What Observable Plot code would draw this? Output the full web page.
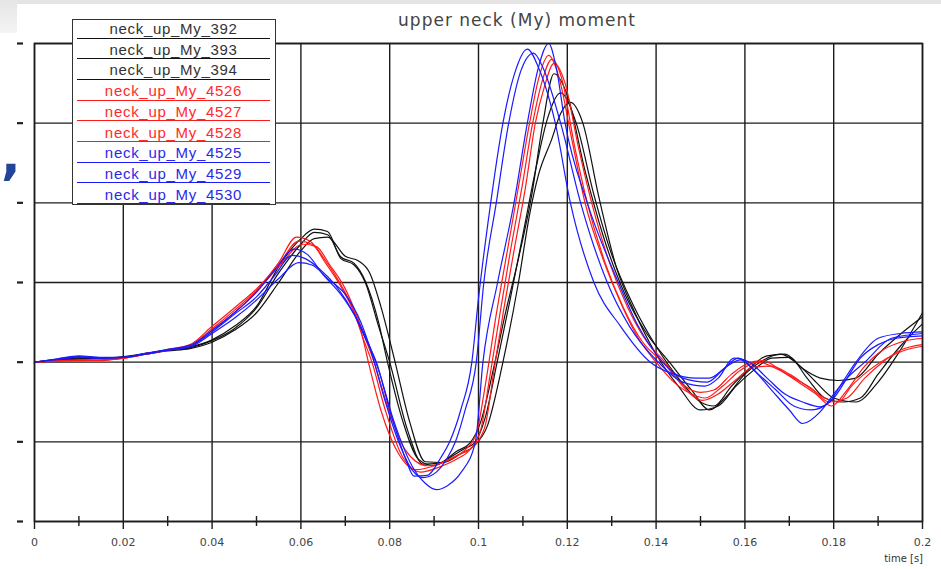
<!DOCTYPE html>
<html>
<head>
<meta charset="utf-8">
<script src="https://cdn.jsdelivr.net/npm/d3@7"></script>
<script src="https://cdn.jsdelivr.net/npm/@observablehq/plot@0.6"></script>
<style>
  html, body { margin: 0; padding: 0; background: #fff; overflow: hidden; }
  #wrap { position: relative; width: 941px; height: 569px; overflow: hidden; background: #fff; }
  #chart { position: absolute; left: 0; top: 0; }
  .band { position: absolute; left: 0; top: 0; width: 941px; height: 4px; background: #e4e4e4; }
  .corner { position: absolute; left: 0; top: 0; width: 17px; height: 33px; background: linear-gradient(#e6e6e6, #f4f4f4); }
  .comma { position: absolute; left: 1px; top: 130px; font: bold 52px/52px "DejaVu Sans", sans-serif; color: #22449a; }
  .title { position: absolute; left: 517px; top: 10px; transform: translateX(-50%); white-space: nowrap;
           font: 17px "DejaVu Sans", sans-serif; letter-spacing: 1px; color: #444; }
  .xlabel { position: absolute; right: 18px; top: 553px; font: 10px "DejaVu Sans", sans-serif; color: #333; }
  #legend { position: absolute; left: 72px; top: 19px; width: 202px; height: 184px; background: #fff;
            border: 1px solid #333; }
  .lrow { position: absolute; left: 4px; width: 193px; text-align: center; font: 15px "Liberation Sans", Arial, sans-serif;
          letter-spacing: 0.7px; line-height: 17px; }
  .lline { position: absolute; left: 4px; width: 193px; height: 0; border-top: 1.5px solid; }
</style>
</head>
<body>
<div id="wrap">
  <div class="band"></div>
  <div class="corner"></div>
  <div class="comma">,</div>
  <div id="chart"></div>
  <div class="title">upper neck (My) moment</div>
  <div class="xlabel">time [s]</div>
  <div id="legend"></div>
</div>
<script>
// ---- Data ----
const seriesNames = ["neck_up_My_392", "neck_up_My_393", "neck_up_My_394",
                     "neck_up_My_4526", "neck_up_My_4527", "neck_up_My_4528",
                     "neck_up_My_4525", "neck_up_My_4529", "neck_up_My_4530"];
const lineColors = ["#111111", "#111111", "#111111",
                    "#ff1a1a", "#ff1a1a", "#ff1a1a",
                    "#1a1aff", "#1a1aff", "#1a1aff"];
const textColors = ["#333333", "#333333", "#333333",
                    "#ff2a2a", "#ff2a2a", "#ff2a2a",
                    "#2a2ae6", "#2a2ae6", "#2a2ae6"];
const xTicks = [0, 0.02, 0.04, 0.06, 0.08, 0.1, 0.12, 0.14, 0.16, 0.18, 0.2];
const xTickLabels = ["0", "0.02", "0.04", "0.06", "0.08", "0.1", "0.12", "0.14", "0.16", "0.18", "0.2"];
const xMinorTicks = [0.01, 0.03, 0.05, 0.07, 0.09, 0.11, 0.13, 0.15, 0.17, 0.19];
const yTicks = [-2, -1, 0, 1, 2, 3, 4];

// [time s, moment (grid units)]
const s392 = [[0,0],[.005,.03],[.01,.05],[.015,.05],[.02,.07],[.025,.11],[.03,.15],[.035,.19],[.04,.28],[.045,.45],[.05,.7],[.055,1.2],[.06,1.55],[.063,1.67],[.066,1.64],[.069,1.3],[.072,1.22],[.0745,1.0],[.0775,.45],[.08,0],[.084,-.85],[.0875,-1.28],[.091,-1.27],[.095,-1.12],[.098,-1.02],[.1005,-.75],[.1035,-.05],[.106,.6],[.109,1.3],[.112,2.1],[.1145,3.0],[.117,3.62],[.12,3.35],[.124,2.4],[.128,1.6],[.133,.85],[.138,.35],[.143,0],[.148,-.35],[.152,-.6],[.156,-.42],[.16,-.15],[.164,.02],[.168,.1],[.172,-.03],[.176,-.25],[.18,-.45],[.185,-.5],[.19,-.25],[.195,.15],[.2,.62]];
const s393 = [[0,0],[.005,.02],[.01,.04],[.015,.05],[.02,.06],[.025,.1],[.03,.15],[.035,.18],[.04,.27],[.045,.42],[.05,.68],[.055,1.12],[.06,1.48],[.063,1.63],[.066,1.6],[.069,1.32],[.072,1.24],[.0745,1.02],[.0775,.5],[.0795,0],[.083,-.75],[.0865,-1.22],[.09,-1.3],[.094,-1.18],[.097,-1.08],[.099,-1.02],[.1015,-.7],[.1042,0],[.107,.75],[.11,1.6],[.113,2.45],[.1155,3.05],[.1185,3.38],[.122,3.0],[.126,2.1],[.13,1.35],[.135,.7],[.14,.2],[.145,-.2],[.15,-.5],[.153,-.55],[.157,-.3],[.161,-.08],[.165,.08],[.169,.1],[.173,-.08],[.177,-.2],[.181,-.23],[.185,-.2],[.19,.1],[.195,.35],[.2,.57]];
const s394 = [[0,0],[.005,.03],[.01,.04],[.015,.05],[.02,.06],[.025,.1],[.03,.14],[.035,.17],[.04,.25],[.045,.4],[.05,.62],[.055,1.0],[.06,1.4],[.063,1.55],[.066,1.57],[.07,1.33],[.073,1.27],[.0755,1.12],[.078,.7],[.081,.05],[.0845,-.75],[.088,-1.25],[.092,-1.26],[.096,-1.15],[.099,-1.05],[.102,-.8],[.1055,0],[.109,1.0],[.1115,1.85],[.1135,2.35],[.1165,2.8],[.1185,3.12],[.1207,3.26],[.1235,3.0],[.127,2.1],[.131,1.2],[.135,.65],[.14,.1],[.145,-.3],[.15,-.6],[.154,-.55],[.158,-.3],[.162,-.1],[.166,.05],[.17,.06],[.174,-.2],[.178,-.45],[.182,-.5],[.186,-.45],[.19,-.15],[.195,.2],[.2,.48]];
const s4526 = [[0,0],[.005,.02],[.01,.02],[.015,.02],[.02,.05],[.025,.1],[.03,.15],[.035,.21],[.04,.42],[.045,.65],[.05,.9],[.055,1.25],[.059,1.57],[.062,1.52],[.065,1.32],[.0685,1.02],[.0715,.7],[.0735,.4],[.0752,0],[.078,-.6],[.082,-1.15],[.086,-1.35],[.09,-1.3],[.094,-1.2],[.097,-1.1],[.0995,-.9],[.1015,-.3],[.104,.6],[.1065,1.4],[.109,2.2],[.1115,3.0],[.1135,3.55],[.1158,3.85],[.118,3.6],[.121,2.8],[.124,2.0],[.128,1.3],[.132,.75],[.136,.3],[.14,0],[.144,-.25],[.148,-.4],[.151,-.45],[.155,-.3],[.159,-.1],[.163,0],[.167,-.08],[.171,-.2],[.175,-.33],[.179,-.5],[.183,-.45],[.187,-.2],[.191,0],[.195,.15],[.2,.22]];
const s4527 = [[0,0],[.005,.02],[.01,.03],[.015,.03],[.02,.05],[.025,.1],[.03,.16],[.035,.22],[.04,.45],[.045,.68],[.05,.92],[.055,1.22],[.0595,1.52],[.0625,1.48],[.0655,1.25],[.069,.95],[.072,.62],[.074,.3],[.076,0],[.079,-.6],[.083,-1.2],[.087,-1.38],[.091,-1.32],[.095,-1.22],[.098,-1.1],[.1005,-.85],[.1025,-.2],[.1048,.6],[.1072,1.4],[.1098,2.2],[.1122,3.0],[.1142,3.5],[.1165,3.8],[.1188,3.55],[.1215,2.75],[.1245,2.0],[.1285,1.25],[.1325,.7],[.137,.25],[.1415,0],[.146,-.28],[.15,-.38],[.153,-.35],[.157,-.15],[.1605,-.02],[.164,.02],[.168,-.1],[.172,-.25],[.176,-.4],[.1795,-.55],[.183,-.35],[.187,-.05],[.191,.15],[.195,.25],[.2,.3]];
const s4528 = [[0,0],[.005,.01],[.01,.02],[.015,.03],[.02,.05],[.025,.1],[.03,.15],[.035,.2],[.04,.4],[.045,.62],[.05,.88],[.055,1.2],[.0605,1.48],[.0635,1.45],[.0665,1.22],[.07,.92],[.0725,.6],[.0745,.3],[.0765,0],[.0795,-.55],[.0835,-1.1],[.0885,-1.3],[.0925,-1.25],[.096,-1.15],[.099,-1.05],[.1015,-.8],[.1035,-.1],[.1058,.7],[.108,1.4],[.1106,2.2],[.1128,3.0],[.1148,3.45],[.117,3.75],[.1195,3.5],[.1225,2.7],[.1255,2.0],[.1295,1.25],[.1335,.7],[.138,.25],[.142,0],[.146,-.3],[.1505,-.48],[.154,-.4],[.158,-.22],[.162,-.06],[.166,-.05],[.17,-.15],[.174,-.3],[.178,-.45],[.181,-.5],[.184,-.3],[.188,-.1],[.192,.05],[.196,.15],[.2,.2]];
const s4525 = [[0,0],[.005,.04],[.01,.07],[.015,.05],[.02,.06],[.025,.11],[.03,.15],[.035,.2],[.04,.38],[.045,.6],[.05,.82],[.054,1.08],[.058,1.34],[.061,1.3],[.064,1.18],[.068,.95],[.072,.6],[.0745,.3],[.077,0],[.08,-.6],[.0835,-1.2],[.0855,-1.43],[.0885,-1.42],[.0915,-1.2],[.0935,-1.0],[.096,-.6],[.0985,0],[.1,.8],[.1025,1.9],[.1055,3.0],[.108,3.6],[.111,3.93],[.1135,3.7],[.1173,3.0],[.1207,2.0],[.126,1.0],[.132,.45],[.1387,0],[.144,-.15],[.149,-.2],[.152,-.2],[.156,-.05],[.159,.03],[.163,-.15],[.167,-.35],[.171,-.55],[.175,-.6],[.179,-.5],[.182,-.25],[.185,0],[.19,.3],[.195,.36],[.2,.38]];
const s4529 = [[0,0],[.005,.03],[.01,.06],[.015,.05],[.02,.06],[.025,.1],[.03,.15],[.035,.19],[.04,.36],[.045,.55],[.05,.78],[.055,1.05],[.0595,1.25],[.0625,1.22],[.066,1.05],[.07,.85],[.0735,.5],[.076,.1],[.0785,-.4],[.082,-1.0],[.085,-1.35],[.0875,-1.45],[.0905,-1.38],[.093,-1.2],[.0948,-1.0],[.097,-.6],[.0995,0],[.1012,1.0],[.104,2.0],[.1068,3.0],[.1095,3.65],[.1124,3.88],[.1145,3.7],[.1185,3.0],[.123,2.0],[.129,1.0],[.134,.45],[.1405,0],[.146,-.25],[.151,-.3],[.154,-.2],[.1575,.05],[.161,0],[.165,-.2],[.169,-.4],[.173,-.5],[.177,-.56],[.18,-.45],[.183,-.2],[.186,.05],[.19,.22],[.194,.3],[.2,.33]];
const s4530 = [[0,0],[.005,.04],[.01,.08],[.015,.06],[.02,.06],[.025,.11],[.03,.16],[.035,.21],[.04,.4],[.045,.62],[.05,.88],[.054,1.15],[.0585,1.42],[.0615,1.35],[.065,1.1],[.069,.85],[.073,.5],[.0755,.2],[.0775,-.1],[.081,-.75],[.085,-1.3],[.088,-1.52],[.0905,-1.6],[.093,-1.55],[.096,-1.39],[.0993,-1.0],[.101,0],[.1043,1.0],[.108,2.0],[.111,3.0],[.1135,3.7],[.1158,4.0],[.1175,3.7],[.1195,3.0],[.1245,2.0],[.1315,1.0],[.136,.45],[.1415,0],[.146,-.2],[.1515,-.25],[.155,-.1],[.1585,.05],[.162,-.1],[.166,-.35],[.17,-.6],[.173,-.77],[.177,-.62],[.18,-.4],[.183,-.2],[.187,0],[.193,.3],[.2,.36]];

const seriesData = [s392, s393, s394, s4526, s4527, s4528, s4525, s4529, s4530];

// ---- Build table ----
const rows = [];
seriesNames.forEach((name, i) => {
  seriesData[i].forEach(([t, v]) => rows.push({name, t, v}));
});

const gridColor = "#1c1c1c";

const chart = Plot.plot({
  width: 941,
  height: 569,
  marginTop: 43,
  marginBottom: 48,
  marginLeft: 34,
  marginRight: 19,
  style: {fontFamily: "DejaVu Sans, sans-serif", fontSize: "11px", color: "#444", background: "transparent", overflow: "visible"},
  x: {domain: [0, 0.2], label: null},
  y: {domain: [-2, 4], label: null},
  color: {domain: seriesNames, range: lineColors},
  marks: [
    Plot.gridX(xTicks, {stroke: gridColor, strokeOpacity: 1, strokeWidth: 1.4}),
    Plot.gridY(yTicks, {stroke: gridColor, strokeOpacity: 1, strokeWidth: 1.4}),
    Plot.line(rows, {x: "t", y: "v", z: "name", stroke: "name", strokeWidth: 1.2, curve: "monotone-x"}),
    Plot.frame({stroke: gridColor, strokeWidth: 1.6}),
    Plot.axisX(xTicks, {tickSize: 8, tickPadding: 9, stroke: gridColor, strokeWidth: 1.4,
      tickFormat: d => xTickLabels[xTicks.indexOf(d)], fill: "#444", label: null,
      style: {letterSpacing: "0.6px"}}),
    Plot.axisX(xMinorTicks, {tickSize: 10, dy: -5, stroke: gridColor, strokeWidth: 1.4, tickFormat: () => "", label: null}),
    Plot.axisY(yTicks, {tickSize: 6, dx: -11, stroke: "#222", strokeWidth: 2.2, tickFormat: () => "", label: null})
  ]
});
document.getElementById("chart").appendChild(chart);

// ---- Legend (overlaid, top-left) ----
const legend = document.getElementById("legend");
seriesNames.forEach((name, i) => {
  const lineY = 17.5 + i * 20.7;
  const txt = document.createElement("div");
  txt.className = "lrow";
  txt.style.top = (lineY - 17.5) + "px";
  txt.style.color = textColors[i];
  txt.textContent = name;
  legend.appendChild(txt);
  const ln = document.createElement("div");
  ln.className = "lline";
  ln.style.top = lineY + "px";
  ln.style.borderColor = lineColors[i];
  legend.appendChild(ln);
});
</script>
</body>
</html>
